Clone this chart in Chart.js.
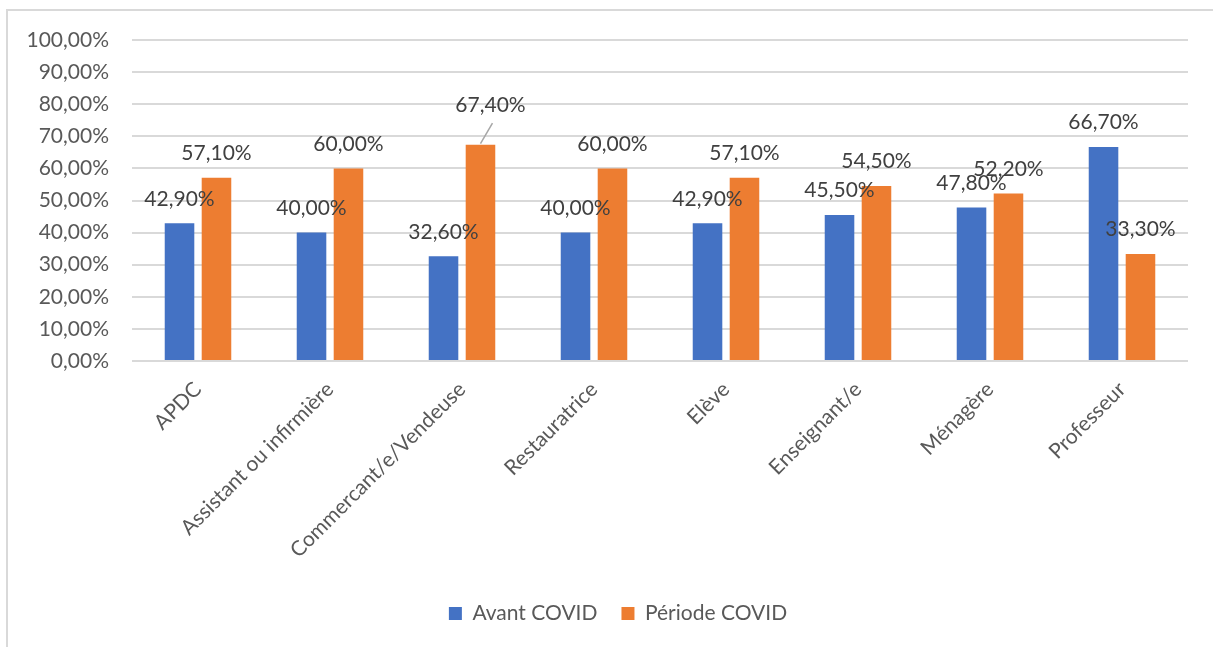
<!DOCTYPE html>
<html>
<head>
<meta charset="utf-8">
<script src="https://cdn.jsdelivr.net/npm/chart.js@4.4.1/dist/chart.umd.min.js"></script>
<style>
  html, body { margin: 0; padding: 0; background: #ffffff; overflow: hidden; }
  #frame { position: absolute; left: 6px; top: 9px; width: 1400px; height: 800px;
           border-left: 2px solid #d9d9d9; border-top: 2px solid #d9d9d9; }
  #wrap { position: absolute; left: 0; top: 0; width: 1213px; height: 647px; }
</style>
</head>
<body>
<div id="frame"></div>
<div id="wrap"><canvas id="c" width="1213" height="647"></canvas></div>
<script>
const categories = ["APDC", "Assistant ou infirmière", "Commercant/e/Vendeuse", "Restauratrice", "Elève", "Enseignant/e", "Ménagère", "Professeur"];
const avantCovid = [42.9, 40.0, 32.6, 40.0, 42.9, 45.5, 47.8, 66.7];
const periodeCovid = [57.1, 60.0, 67.4, 60.0, 57.1, 54.5, 52.2, 33.3];
const seriesNames = ["Avant COVID", "Période COVID"];
const yTickMin = 0, yTickMax = 100, yTickStep = 10;

const FONT = "Lato, 'Open Sans', sans-serif";
const FS = 21;
const fmt = v => v.toFixed(2).replace('.', ',') + '%';

// label placement tweaks (style only): key "dataset-index"
const labelAdjust = { "1-2": { dx: 10, dy: -15, leader: true } };

const dataLabels = {
  id: 'dataLabels',
  afterDatasetsDraw(chart) {
    const ctx = chart.ctx;
    ctx.save();
    ctx.font = FS + "px " + FONT;
    ctx.textAlign = 'center';
    ctx.textBaseline = 'middle';
    chart.data.datasets.forEach((ds, di) => {
      const meta = chart.getDatasetMeta(di);
      meta.data.forEach((bar, i) => {
        const adj = labelAdjust[di + '-' + i] || { dx: 0, dy: 0 };
        const lx = bar.x + adj.dx;
        const ly = bar.y - 24.5 + adj.dy;
        if (adj.leader) {
          ctx.strokeStyle = '#a6a6a6';
          ctx.lineWidth = 1.5;
          ctx.beginPath();
          ctx.moveTo(lx + 2, ly + 18);
          ctx.lineTo(bar.x, bar.y - 1);
          ctx.stroke();
        }
        ctx.fillStyle = '#404040';
        ctx.fillText(fmt(ds.data[i]), lx, ly);
      });
    });
    ctx.restore();
  }
};

// shift the legend's horizontal span so it is centred like the reference
const legendShift = {
  id: 'legendShift',
  afterLayout(chart) { if (chart.legend) { chart.legend.left = 48; } }
};

new Chart(document.getElementById('c'), {
  type: 'bar',
  data: {
    labels: categories,
    datasets: [
      { label: seriesNames[0], data: avantCovid, backgroundColor: '#4472C4', borderWidth: 0,
        categoryPercentage: 0.56, barPercentage: 0.8 },
      { label: seriesNames[1], data: periodeCovid, backgroundColor: '#ED7D31', borderWidth: 0,
        categoryPercentage: 0.56, barPercentage: 0.8 }
    ]
  },
  options: {
    responsive: false,
    animation: false,
    devicePixelRatio: 1,
    layout: { padding: { left: 0, right: 25, top: 40, bottom: 13 } },
    plugins: {
      legend: {
        position: 'bottom',
        labels: { boxWidth: 13, boxHeight: 13, padding: 24, color: '#595959',
                  font: { family: FONT, size: FS } }
      },
      tooltip: { enabled: false }
    },
    scales: {
      x: {
        grid: { display: false },
        border: { display: false },
        ticks: { color: '#595959', font: { family: FONT, size: FS },
                 minRotation: 45, maxRotation: 45, autoSkip: false, padding: 8 },
        afterFit(scale) { scale.height = 218; }
      },
      y: {
        min: yTickMin, max: yTickMax,
        grid: { color: '#d9d9d9', lineWidth: 2, drawTicks: false },
        border: { display: false },
        ticks: { stepSize: yTickStep, color: '#595959', font: { family: FONT, size: FS },
                 padding: 23, callback: v => fmt(v) },
        afterFit(scale) { scale.width = 132; }
      }
    }
  },
  plugins: [dataLabels, legendShift]
});
</script>
</body>
</html>
